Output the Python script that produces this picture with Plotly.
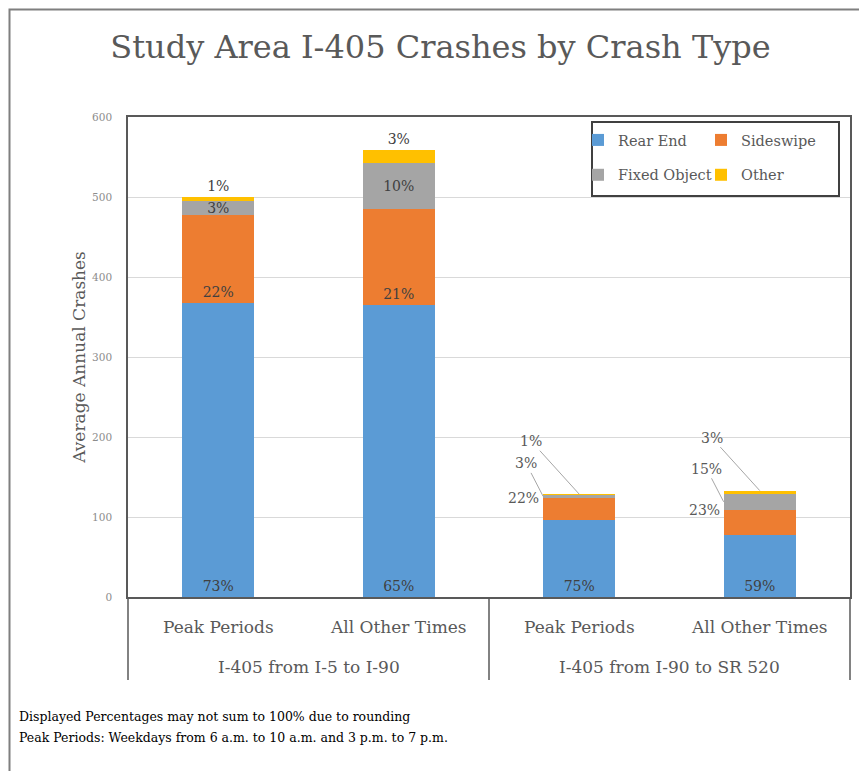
import plotly.graph_objects as go

# ---------------- data ----------------
segments = ["I-405 from I-5 to I-90", "I-405 from I-5 to I-90",
            "I-405 from I-90 to SR 520", "I-405 from I-90 to SR 520"]
periods = ["Peak Periods", "All Other Times", "Peak Periods", "All Other Times"]
group_labels = ["I-405 from I-5 to I-90", "I-405 from I-90 to SR 520"]
rear_end = [367, 365, 96, 78]
sideswipe = [111, 120, 28, 31]
fixed_object = [17, 57, 3.5, 20]
other = [5, 17, 1, 4]
series_names = ["Rear End", "Sideswipe", "Fixed Object", "Other"]
y_ticks = [0, 100, 200, 300, 400, 500, 600]
title_text = "Study Area I-405 Crashes by Crash Type"
y_title = "Average Annual Crashes"
notes = ["Displayed Percentages may not sum to 100% due to rounding",
         "Peak Periods: Weekdays from 6 a.m. to 10 a.m. and 3 p.m. to 7 p.m."]

# ---------------- styling ----------------
FONT = "DejaVu Serif"
colors = ["#5b9bd5", "#ed7d31", "#a5a5a5", "#ffc000"]
callout = [False, False, True, True]   # small bars get leader-line labels

OFF = 8  # page body margin
W, H = 867, 771
L, R, T, B = 128 - OFF, 25, 117 - OFF, 182
pw, ph = W - L - R, H - T - B

def px_x(p):
    return (p - OFF - L) / pw

def px_y(p):
    return (H - B - (p - OFF)) / ph

series = [rear_end, sideswipe, fixed_object, other]
totals = [sum(v) for v in zip(*series)]

def pct(v, t):
    return "%d%%" % int(v / t * 100 + 0.5)

x = [segments, periods]
fig = go.Figure()
positions = ["inside", "inside", "inside", "outside"]
anchors = ["start", "start", "middle", "middle"]
for i, (name, vals) in enumerate(zip(series_names, series)):
    texts = []
    for j, v in enumerate(vals):
        if callout[j] and i > 0:
            texts.append("")
        else:
            texts.append(pct(v, totals[j]))
    fig.add_trace(go.Bar(
        x=x, y=vals, name=name, text=texts,
        textposition=positions[i], insidetextanchor=anchors[i],
        constraintext="none", cliponaxis=False,
        textfont=dict(family=FONT, size=14, color="#404040"),
        marker=dict(color=colors[i], line=dict(width=0)),
        width=0.4, hoverinfo="skip",
        legend="legend" if i % 2 == 0 else "legend2",
        legendgroup=name,
    ))

ann = []
# callout labels for the small bars
for j in range(len(totals)):
    if not callout[j]:
        continue
    cum_side = rear_end[j] + sideswipe[j]
    ann.append(dict(x=j - 0.2, y=cum_side, xref="x", yref="y",
                    text=pct(sideswipe[j], totals[j]), showarrow=False,
                    xanchor="right", yanchor="middle", xshift=-2,
                    font=dict(family=FONT, size=14, color="#595959")))
    ann.append(dict(x=j - 0.2, y=cum_side + fixed_object[j] / 2, xref="x", yref="y",
                    text=pct(fixed_object[j], totals[j]), showarrow=True,
                    arrowhead=0, arrowwidth=1, arrowcolor="#a6a6a6",
                    ax=-17, ay=-33, standoff=0,
                    font=dict(family=FONT, size=14, color="#595959")))
    ann.append(dict(x=j, y=totals[j], xref="x", yref="y",
                    text=pct(other[j], totals[j]), showarrow=True,
                    arrowhead=0, arrowwidth=1, arrowcolor="#a6a6a6",
                    ax=-48, ay=-53, standoff=0,
                    font=dict(family=FONT, size=14, color="#595959")))

# category axis labels (two levels)
for j, p in enumerate(periods):
    ann.append(dict(x=j, y=px_y(627), xref="x", yref="paper", text=p,
                    showarrow=False, xanchor="center", yanchor="middle",
                    font=dict(family=FONT, size=17, color="#595959")))
for g, lab in enumerate(group_labels):
    ann.append(dict(x=2 * g + 0.5, y=px_y(667), xref="x", yref="paper", text=lab,
                    showarrow=False, xanchor="center", yanchor="middle",
                    font=dict(family=FONT, size=17, color="#595959")))

# footnotes
for note, ypix in zip(notes, [716, 737]):
    ann.append(dict(x=px_x(17), y=px_y(ypix), xref="paper", yref="paper",
                    text=note, showarrow=False, xanchor="left", yanchor="middle",
                    font=dict(family=FONT, size=12.5, color="#000000")))

shapes = [
    # outer chart border
    dict(type="rect", xref="paper", yref="paper",
         x0=px_x(9.5), x1=px_x(W + 40), y0=px_y(H + 40), y1=px_y(9.5),
         line=dict(color="#7f7f7f", width=2), fillcolor="rgba(0,0,0,0)", layer="below"),
    # legend frame
    dict(type="rect", xref="paper", yref="paper",
         x0=px_x(592), x1=px_x(839), y0=px_y(196), y1=px_y(122),
         line=dict(color="#404040", width=2), fillcolor="white", layer="above"),
]
# group dividers below the category axis
for xd in [0, 0.5, 1]:
    shapes.append(dict(type="line", xref="paper", yref="paper",
                       x0=xd, x1=xd, y0=0, y1=px_y(680),
                       line=dict(color="#595959", width=1.5)))

legend_common = dict(
    orientation="v", xanchor="left", yanchor="top", bgcolor="rgba(0,0,0,0)",
    font=dict(family=FONT, size=14.5, color="#595959"), traceorder="grouped",
    tracegroupgap=13, itemwidth=30, itemclick=False, itemdoubleclick=False,
)

fig.update_layout(
    width=W, height=H,
    margin=dict(l=L, r=R, t=T, b=B, pad=0, autoexpand=False),
    paper_bgcolor="white", plot_bgcolor="white",
    barmode="stack",
    title=dict(text=title_text, x=(440.5 - OFF) / W, xanchor="center",
               y=1 - (47 - OFF) / H, yanchor="middle",
               font=dict(family=FONT, size=32, color="#595959")),
    font=dict(family=FONT, color="#595959"),
    showlegend=True,
    legend=dict(x=px_x(578), y=px_y(124), **legend_common),
    legend2=dict(x=px_x(701), y=px_y(124), **legend_common),
    annotations=ann,
    shapes=shapes,
    xaxis=dict(
        type="multicategory", showline=True, linecolor="#595959", linewidth=1.5,
        mirror=True, ticks="", showgrid=False, showticklabels=False,
        showdividers=False,
    ),
    yaxis=dict(
        range=[0, 600], tickvals=y_ticks, showline=True, linecolor="#595959",
        linewidth=1.5, mirror=True, showgrid=True, gridcolor="#d9d9d9", gridwidth=1,
        zeroline=False, ticks="", ticklabelstandoff=12,
        tickfont=dict(family=FONT, size=10.5, color="#8c8c8c"),
        title=dict(text=y_title, standoff=2,
                   font=dict(family=FONT, size=17, color="#595959")),
    ),
)

fig.write_html("out.html")
